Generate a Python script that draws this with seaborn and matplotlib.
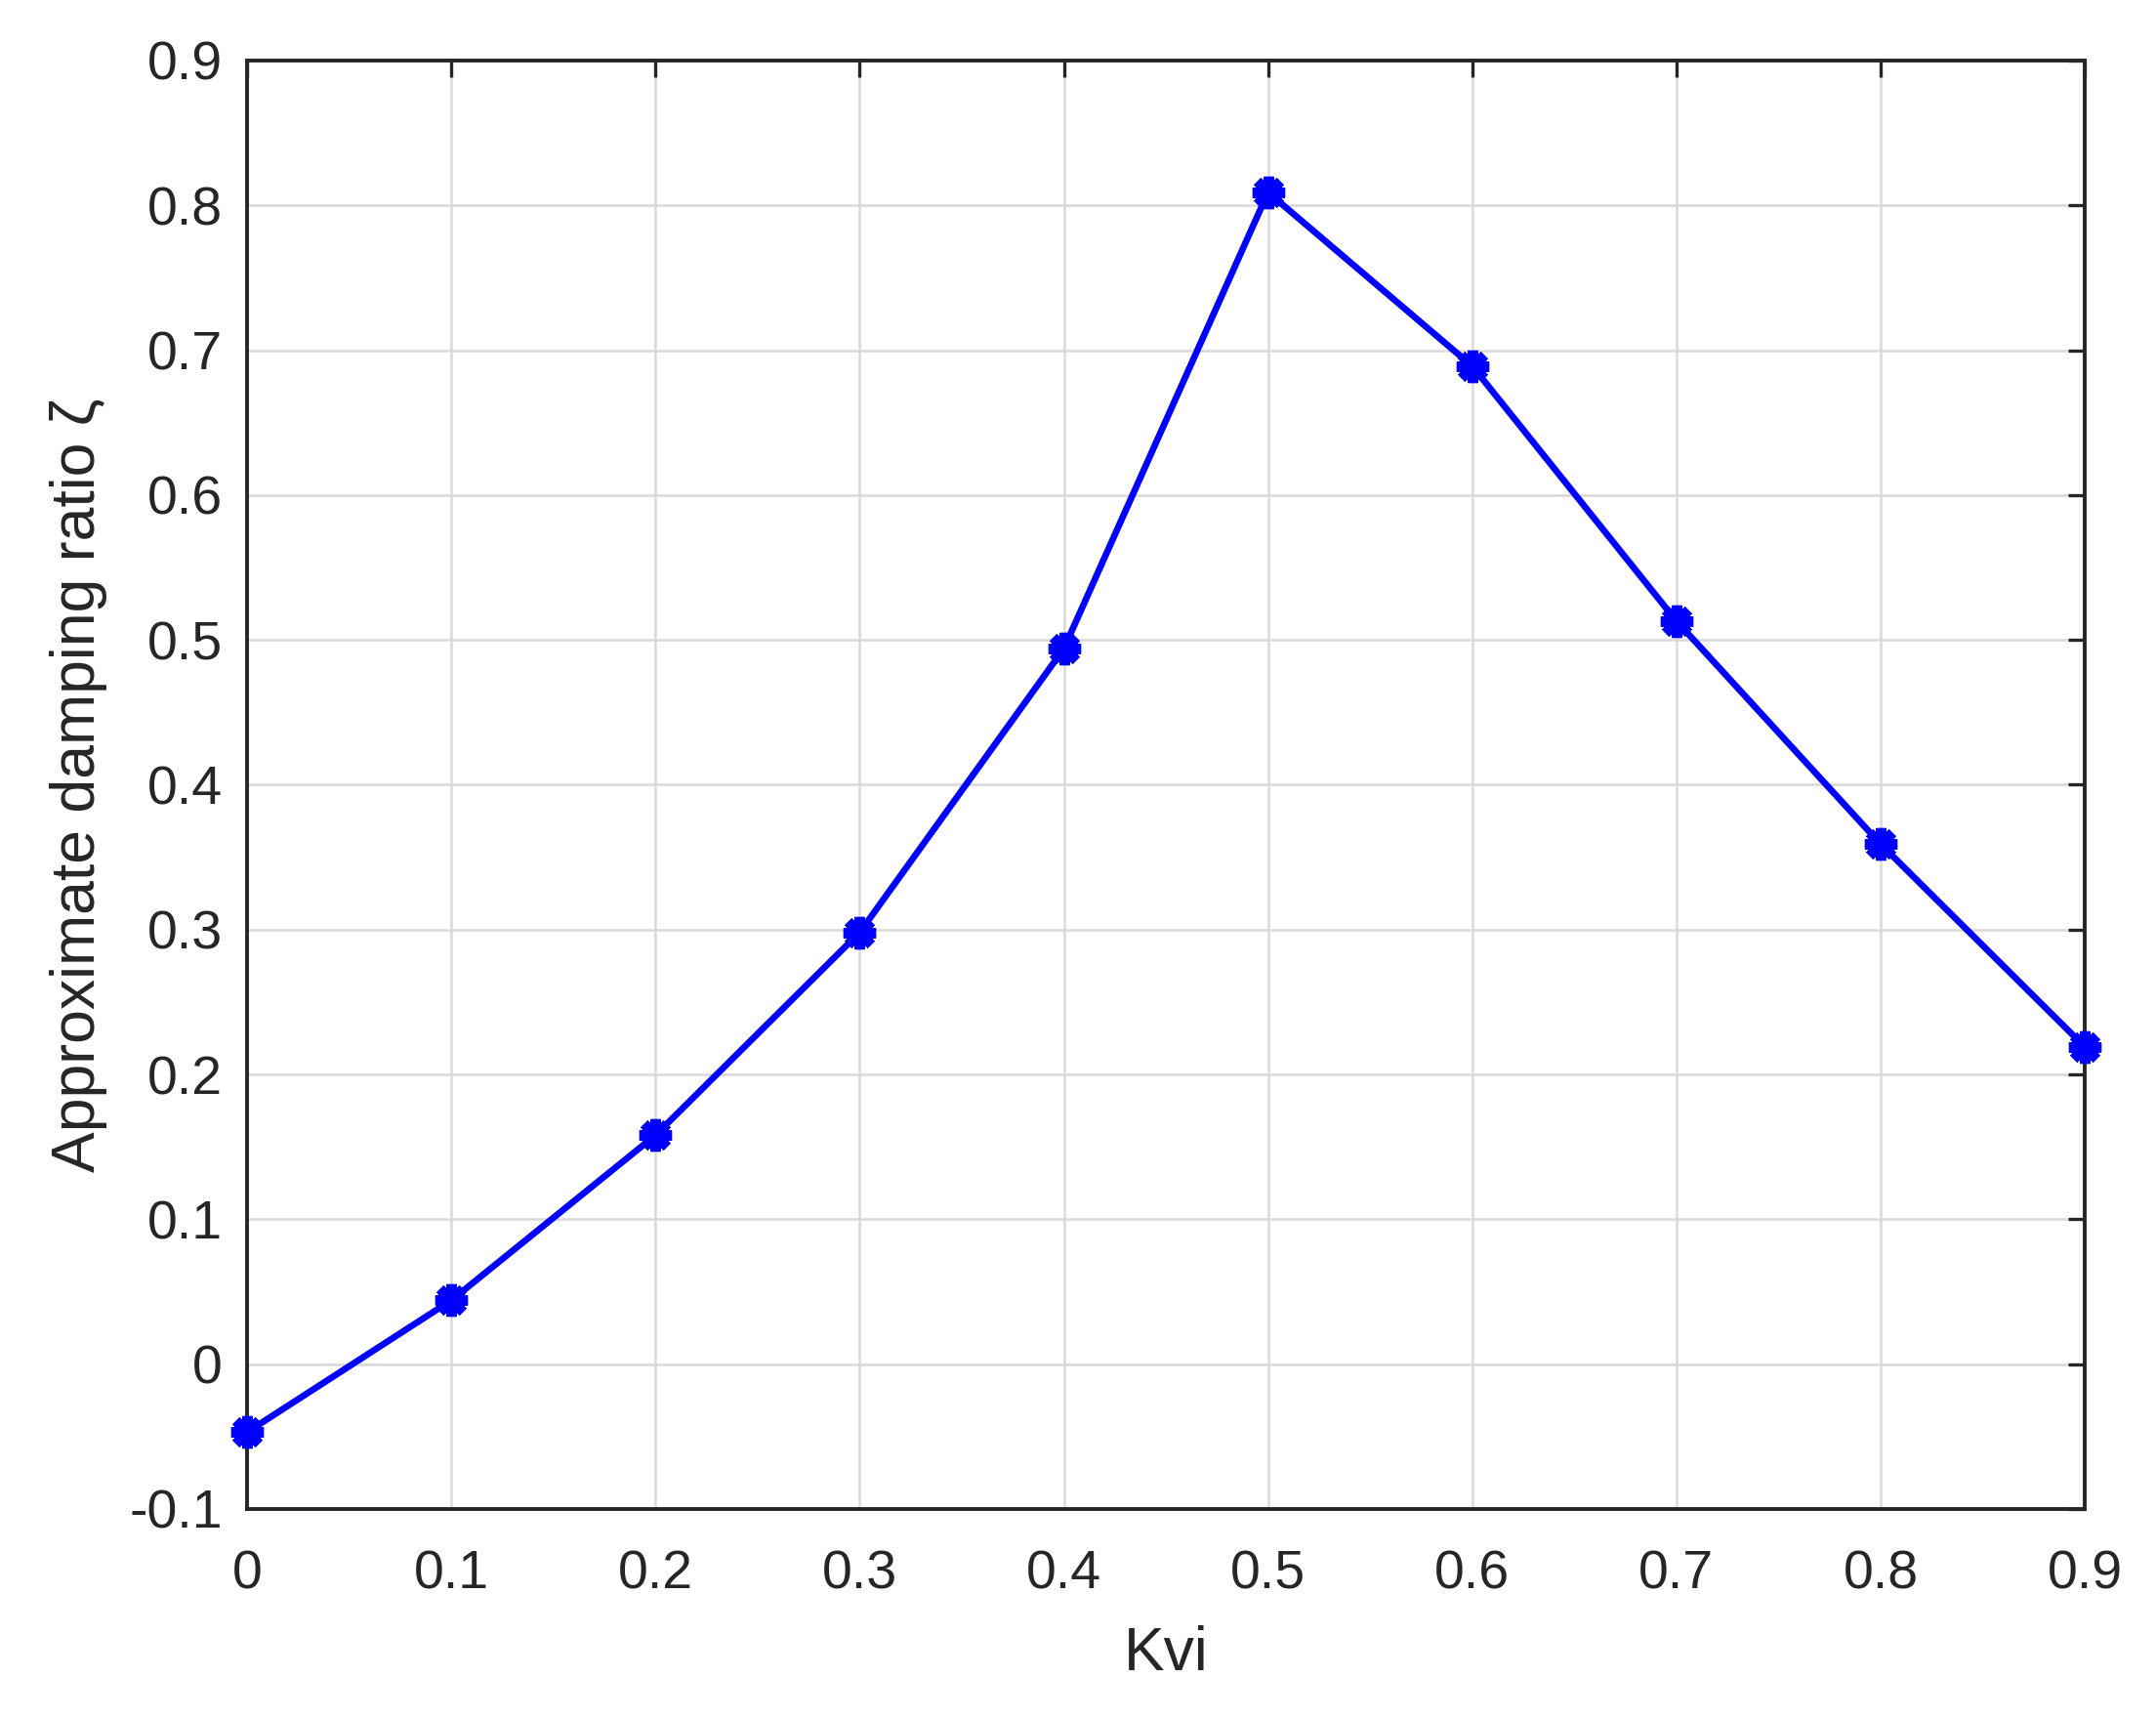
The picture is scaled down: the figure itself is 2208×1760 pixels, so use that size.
import pandas as pd
import matplotlib.pyplot as plt
import seaborn as sns

# Kvi gain values and the damping ratio
kvi = [0.0, 0.1, 0.2, 0.3, 0.4, 0.5, 0.6, 0.7, 0.8, 0.9]
zeta = [-0.047, 0.044, 0.158, 0.298, 0.494, 0.809, 0.689, 0.513, 0.359, 0.219]

x_ticks = [0, 0.1, 0.2, 0.3, 0.4, 0.5, 0.6, 0.7, 0.8, 0.9]
x_labels = ["0", "0.1", "0.2", "0.3", "0.4", "0.5", "0.6", "0.7", "0.8", "0.9"]
y_ticks = [-0.1, 0, 0.1, 0.2, 0.3, 0.4, 0.5, 0.6, 0.7, 0.8, 0.9]
y_labels = ["-0.1", "0", "0.1", "0.2", "0.3", "0.4", "0.5", "0.6", "0.7", "0.8", "0.9"]

df = pd.DataFrame({"Kvi": kvi, "zeta": zeta})

sns.set_style("white")
plt.rcParams["font.family"] = ["Liberation Sans", "DejaVu Sans"]

fig = plt.figure(figsize=(11.04, 8.8), dpi=200)
ax = fig.add_axes([0.1146, 0.1222, 0.8524, 0.8426])

# MATLAB-like '-*' line
sns.lineplot(data=df, x="Kvi", y="zeta", ax=ax, color="#0000ff", linewidth=2.4,
             marker=(8, 2, 0), markersize=12, markeredgewidth=3.6,
             markeredgecolor="#0000ff", zorder=3, clip_on=False)

ax.set_xlim(0, 0.9)
ax.set_ylim(-0.1, 0.9)
ax.set_xticks(x_ticks)
ax.set_xticklabels(x_labels)
ax.set_yticks(y_ticks)
ax.set_yticklabels(y_labels)

ax.grid(True, color="#d9d9d9", linewidth=0.9)
ax.set_axisbelow(True)
for s in ax.spines.values():
    s.set_color("#262626")
    s.set_linewidth(1.4)
    s.set_visible(True)

ax.tick_params(direction="in", length=6, width=1.2, color="#262626",
               top=True, right=True, labelsize=20, labelcolor="#262626")
ax.tick_params(axis="x", pad=15)
ax.tick_params(axis="y", pad=9)

ax.set_xlabel("Kvi", fontsize=22.5, color="#262626", labelpad=9)
ax.set_ylabel("Approximate damping ratio ζ", fontsize=22.5, color="#262626", labelpad=8)

fig.savefig("out.png", dpi=200, facecolor="white")
